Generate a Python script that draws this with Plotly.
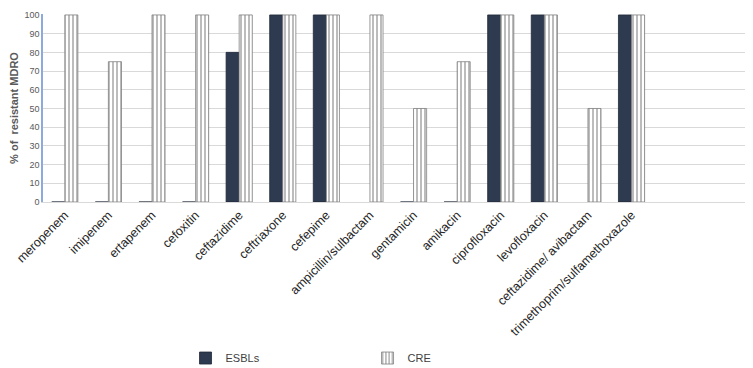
import plotly.graph_objects as go

categories = ["meropenem", "imipenem", "ertapenem", "cefoxitin", "ceftazidime",
              "ceftriaxone", "cefepime", "ampicillin/sulbactam", "gentamicin",
              "amikacin", "ciprofloxacin", "levofloxacin", "ceftazidime/ avibactam",
              "trimethoprim/sulfamethoxazole"]
esbl = [0, 0, 0, 0, 80, 100, 100, None, 0, 0, 100, 100, None, 100]
cre = [100, 75, 100, 100, 100, 100, 100, 100, 50, 75, 100, 100, 50, 100]
y_ticks = list(range(0, 101, 10))

fig = go.Figure()
fig.add_trace(go.Bar(
    x=categories, y=esbl, name="ESBLs",
    marker=dict(color="#2E3A4F", line=dict(color="#1F2838", width=0.8)),
))
fig.add_trace(go.Bar(
    x=categories, y=cre, name="CRE",
    marker=dict(color="#FFFFFF",
                line=dict(color="#7F7F7F", width=0.8),
                pattern=dict(shape="|", fgcolor="#7A7A7A", bgcolor="#FFFFFF",
                             size=4, solidity=0.5)),
))

fig.update_layout(
    width=753, height=368,
    margin=dict(l=35, r=0, t=6, b=174, autoexpand=False),
    paper_bgcolor="white", plot_bgcolor="white",
    barmode="group", bargap=0.4, bargroupgap=0.0,
    font=dict(family="Liberation Sans, Arial, sans-serif", color="#404040"),
    xaxis=dict(
        range=[-0.5, 15.97], tickangle=-45, showgrid=False, automargin=False,
        tickfont=dict(size=12.5, color="#262626"),
        showline=True, linecolor="#D9D9D9", linewidth=1, ticks="",
    ),
    yaxis=dict(
        range=[0, 100.5], tickvals=y_ticks, showgrid=True, automargin=False,
        gridcolor="#D9D9D9", gridwidth=1, ticklabeloverflow="allow",
        showline=True, linecolor="#8EA9DB", linewidth=1.5,
        tickfont=dict(size=9, color="#595959"), ticks="",
        title=dict(text="<b>% of  resistant MDRO</b>", font=dict(size=11, color="#595959"),
                   standoff=8),
        zeroline=False,
    ),
    legend=dict(orientation="h", x=0.1985, y=-0.83, xanchor="left", yanchor="middle",
                entrywidth=137, entrywidthmode="pixels", itemwidth=30,
                font=dict(size=11, color="#404040")),
)

fig.write_html("out.html")
